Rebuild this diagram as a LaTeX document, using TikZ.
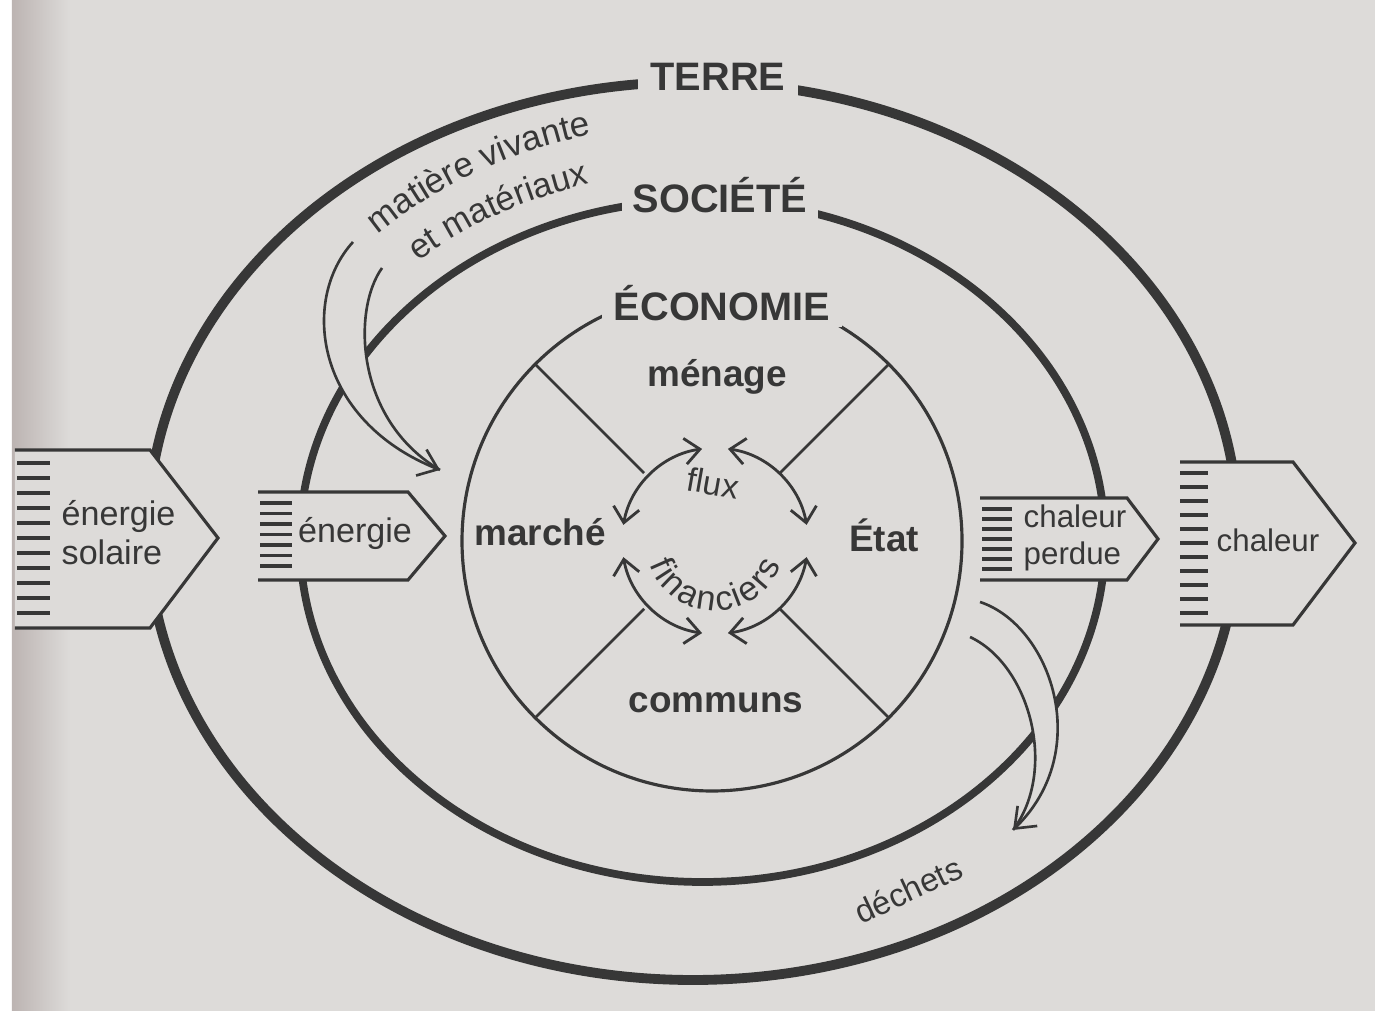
\documentclass[tikz,border=0pt]{standalone}
\usepackage{fontspec}
\setmainfont{Liberation Sans}
\usetikzlibrary{arrows.meta}
\usetikzlibrary{decorations.text}
\definecolor{paper}{RGB}{221,219,217}
\definecolor{ink}{RGB}{55,55,55}
\definecolor{shadow}{RGB}{188,180,178}

\begin{document}
\begin{tikzpicture}[
    terreline/.style={draw=ink, line width=2.8pt},
    societeline/.style={draw=ink, line width=2.2pt},
    ecoline/.style={draw=ink, line width=0.9pt},
    ringlabel/.style={fill=paper, text=ink, font=\bfseries\fontsize{11.3}{13}\selectfont, inner xsep=1.3mm, inner ysep=0.6mm},
    sectorlabel/.style={text=ink, font=\bfseries\fontsize{10.5}{12}\selectfont},
    flowtext/.style={text=ink, font=\fontsize{9.7}{11.1}\selectfont, align=left, inner sep=0},
    arrowedge/.style={draw=ink, line width=0.9pt, line join=miter},
    arrowstripe/.style={draw=ink, line width=1pt},
    bendarrow/.style={draw=ink, line width=0.75pt},
    fluxarrow/.style={draw=ink, line width=0.8pt, {Straight Barb[length=1.5mm,width=2.6mm]}-{Straight Barb[length=1.5mm,width=2.6mm]}}
  ]
  \useasboundingbox (0,0) rectangle (13.75,10.17);
  % page
  \fill[white] (0,0) rectangle (13.75,10.17);
  \fill[paper] (0.12,0.06) rectangle (13.75,10.17);
  \shade[left color=shadow, right color=paper] (0.12,0.06) rectangle (0.7,10.17);

  % centres
  \coordinate (tc) at (6.93,4.86);
  \coordinate (sc) at (7.025,4.76);
  \coordinate (ec) at (7.12,4.76);
  \coordinate (fc) at (7.15,4.76);

  % the three rings
  \draw[terreline] (tc) ellipse[x radius=5.45, y radius=4.49];
  \draw[societeline] (sc) ellipse[x radius=4.025, y radius=3.41];
  \draw[ecoline] (ec) circle[radius=2.5];

  \node[ringlabel] (terre) at (7.18,9.40) {TERRE};
  \node[ringlabel, inner xsep=1.1mm] (societe) at (7.20,8.22) {SOCIÉTÉ};
  \node[ringlabel, inner xsep=1.2mm] (economie) at (7.22,7.14) {ÉCONOMIE};

  % materials in
  \coordinate (mattip) at (4.40,5.47);
  \fill[paper] (3.53,7.75) .. controls (3.00,7.17) and (3.15,5.97) .. (mattip)
    .. controls (3.55,5.97) and (3.52,7.07) .. (3.82,7.49) -- cycle;
  \draw[bendarrow, -{Straight Barb[length=1.8mm,width=2.8mm]}] (3.53,7.75) .. controls (3.00,7.17) and (3.15,5.97) .. (mattip);
  \draw[bendarrow] (3.82,7.49) .. controls (3.52,7.07) and (3.55,5.97) .. (mattip);
  \path[decorate, decoration={text along path, text align=center, text color=ink,
      text={|\fontsize{10}{12}\selectfont|matière vivante}}]
    (6.98,4.84) ++(145:4.69 and 4.09) arc[start angle=145, end angle=92, x radius=4.69, y radius=4.09];
  \path[decorate, decoration={text along path, text align=center, text color=ink,
      text={|\fontsize{9.8}{12}\selectfont|et matériaux}}]
    (6.98,4.84) ++(145:4.25 and 3.61) arc[start angle=145, end angle=92, x radius=4.25, y radius=3.61];

  % waste out
  \coordinate (dectip) at (10.13,1.87);
  \fill[paper] (9.80,4.15) .. controls (10.50,3.92) and (10.95,2.67) .. (dectip)
    .. controls (10.58,2.47) and (10.30,3.52) .. (9.70,3.80) -- cycle;
  \draw[bendarrow, -{Straight Barb[length=1.8mm,width=2.8mm]}] (9.80,4.15) .. controls (10.50,3.92) and (10.95,2.67) .. (dectip);
  \draw[bendarrow] (9.70,3.80) .. controls (10.30,3.52) and (10.58,2.47) .. (dectip);
  \node[flowtext, font=\fontsize{9.3}{11}\selectfont, rotate=25] (dechets) at (9.08,1.27) {déchets};

  % solar energy in
  \fill[paper] (0.15,5.67) -- (1.50,5.67) -- (2.18,4.79) -- (1.50,3.89) -- (0.15,3.89) -- cycle;
  \draw[arrowedge] (0.15,5.67) -- (1.50,5.67) -- (2.18,4.79) -- (1.50,3.89) -- (0.15,3.89);
  \foreach \i in {0,...,10}
    \draw[arrowstripe] (0.17,5.54-0.15*\i) -- (0.50,5.54-0.15*\i);
  \node[flowtext, anchor=west] (solaire) at (0.61,4.845) {énergie\\solaire};

  % energy into society
  \fill[paper] (2.58,5.25) -- (4.08,5.25) -- (4.45,4.81) -- (4.08,4.37) -- (2.58,4.37) -- cycle;
  \draw[arrowedge] (2.58,5.25) -- (4.08,5.25) -- (4.45,4.81) -- (4.08,4.37) -- (2.58,4.37);
  \foreach \i in {0,...,6}
    \draw[arrowstripe] (2.60,5.14-0.105*\i) -- (2.92,5.14-0.105*\i);
  \node[flowtext] (energie) at (3.55,4.84) {énergie};

  % lost heat
  \fill[paper] (9.80,5.19) -- (11.27,5.19) -- (11.58,4.78) -- (11.27,4.37) -- (9.80,4.37) -- cycle;
  \draw[arrowedge] (9.80,5.19) -- (11.27,5.19) -- (11.58,4.78) -- (11.27,4.37) -- (9.80,4.37);
  \foreach \i in {0,...,6}
    \draw[arrowstripe] (9.82,5.08-0.1*\i) -- (10.12,5.08-0.1*\i);
  \node[flowtext, anchor=west, font=\fontsize{8.9}{10.5}\selectfont] (perdue) at (10.23,4.795) {chaleur\\perdue};

  % heat out of the earth
  \fill[paper] (11.80,5.55) -- (12.93,5.55) -- (13.55,4.74) -- (12.93,3.92) -- (11.80,3.92) -- cycle;
  \draw[arrowedge] (11.80,5.55) -- (12.93,5.55) -- (13.55,4.74) -- (12.93,3.92) -- (11.80,3.92);
  \foreach \i in {0,...,10}
    \draw[arrowstripe] (11.80,5.44-0.14*\i) -- (12.08,5.44-0.14*\i);
  \node[flowtext, font=\fontsize{8.9}{10.5}\selectfont] (chaleur) at (12.68,4.77) {chaleur};

  % economy sectors
  \foreach \a in {45,135,225,315}
    \draw[ecoline, line width=0.75pt] (ec) ++(\a:0.96) -- ++(\a:1.54);
  \node[sectorlabel] (menage) at (7.17,6.40) {ménage};
  \node[sectorlabel] (marche) at (5.40,4.85) {marché};
  \node[sectorlabel] (etat) at (8.84,4.82) {État};
  \node[sectorlabel] (communs) at (7.16,3.14) {communs};

  % financial flows
  \foreach \a in {10,98,190,278}
    \draw[fluxarrow] (fc) ++(\a:0.93) arc[start angle=\a, delta angle=72, radius=0.93];
  \node[flowtext, font=\fontsize{9.5}{11}\selectfont, rotate=-10] (flux) at (7.13,5.34) {flux};
  \path[decorate, decoration={text along path, text align={fit to path}, text color=ink,
      text={|\fontsize{9.8}{11}\selectfont|financiers}}]
    (fc) ++(200:0.70) arc[start angle=200, end angle=340, radius=0.70];
\end{tikzpicture}
\end{document}
